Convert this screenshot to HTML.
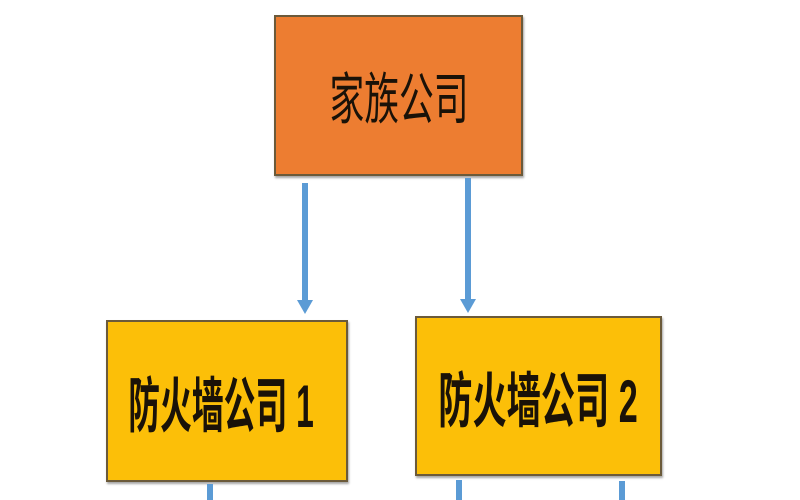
<!DOCTYPE html>
<html><head><meta charset="utf-8"><style>
body{margin:0;width:800px;height:500px;background:#fff;position:relative;overflow:hidden;font-family:"Liberation Sans","Noto Sans CJK SC",sans-serif}
.b{position:absolute;box-sizing:border-box;border:2px solid #6b5a3a;display:flex;align-items:center;justify-content:center;color:#1a1208;box-shadow:1px 2px 2px rgba(0,0,0,.35);white-space:nowrap}
.b span{display:inline-block}
.l{position:absolute;background:#5b9bd5;width:6px}
.a{position:absolute;width:0;height:0;border-left:8px solid transparent;border-right:8px solid transparent;border-top:14px solid #5b9bd5}
</style></head><body>
<div class="b" style="left:274px;top:15px;width:249px;height:161px;background:#ed7d31;font-size:56px"><span style="transform:scaleX(0.62)">家族公司</span></div>
<div class="l" style="left:302px;top:183px;height:118px"></div><div class="a" style="left:297px;top:300px"></div>
<div class="l" style="left:465px;top:178px;height:122px"></div><div class="a" style="left:460px;top:299px"></div>
<div class="b" style="left:106px;top:320px;width:242px;height:162px;background:#fcbf08;font-size:60px"><span style="transform:scaleX(0.53);font-weight:bold;margin-left:-12px">防火墙公司 1</span></div>
<div class="b" style="left:415px;top:316px;width:247px;height:160px;background:#fcbf08;font-size:60px"><span style="transform:scaleX(0.57);font-weight:bold">防火墙公司 2</span></div>
<div class="l" style="left:207px;top:484px;height:16px"></div>
<div class="l" style="left:456px;top:480px;height:20px"></div>
<div class="l" style="left:619px;top:481px;height:19px"></div>
</body></html>
